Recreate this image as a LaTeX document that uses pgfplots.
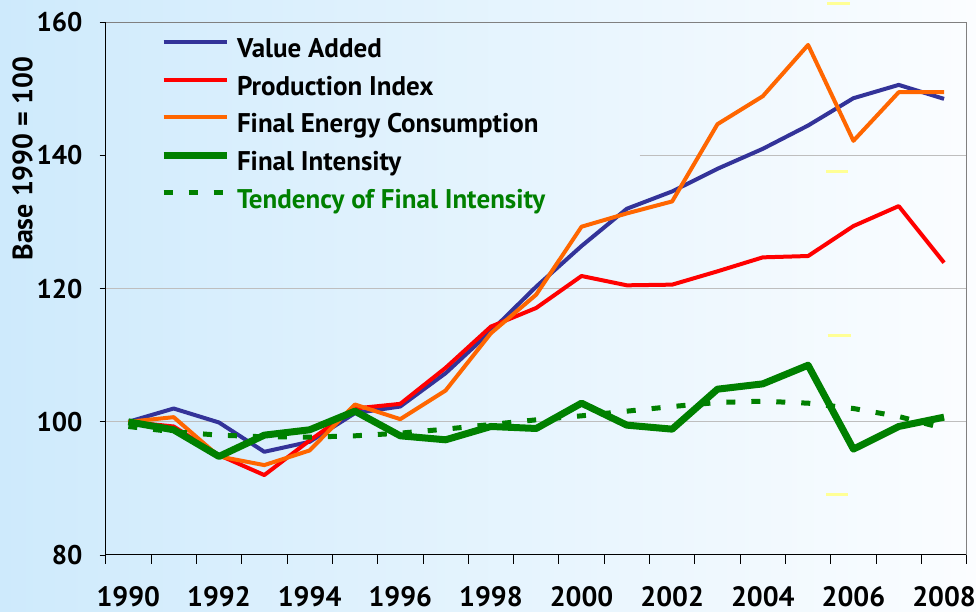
\documentclass[border=0pt]{standalone}
\usepackage{pgfplots}
\pgfplotsset{compat=1.18}
\usepackage{fontspec}
\setmainfont{PT Sans}
\definecolor{vablue}{RGB}{51,51,153}
\definecolor{pired}{RGB}{255,0,0}
\definecolor{fecorange}{RGB}{255,102,0}
\definecolor{figreen}{RGB}{0,128,0}
\definecolor{bgleft}{RGB}{206,234,252}
\definecolor{bgright}{RGB}{251,253,255}
\definecolor{gridgray}{RGB}{190,190,190}
\definecolor{lightyel}{RGB}{255,255,150}
\begin{document}
\begin{tikzpicture}[x=1pt,y=1pt]
\useasboundingbox (0,0) rectangle (976,612);
\shade[left color=bgleft, right color=bgright] (0,0) rectangle (976,612);
\begin{axis}[
  at={(105.7pt,57pt)}, anchor=south west,
  scale only axis, width=861pt, height=532.7pt,
  xmin=1989.5, xmax=2008.5, ymin=80, ymax=160,
  clip=false,
  axis lines*=left,
  axis line style={black, line width=1pt},
  tick align=outside,
  xtick={1990,1992,1994,1996,1998,2000,2002,2004,2006,2008},
  xticklabels={1990,1992,1994,1996,1998,2000,2002,2004,2006,2008},
  major x tick style={draw=none},
  minor xtick={1989.5,1990.5,...,2008.5},
  minor tick length=9pt,
  minor x tick style={black, line width=0.8pt},
  ytick={80,100,120,140,160},
  yticklabels={80,100,120,140,160},
  major tick length=6pt,
  y tick style={black, line width=0.8pt},
  x tick label style={font=\bfseries\fontsize{28}{28}\selectfont, inner sep=0pt, anchor=north, yshift=-25pt},
  y tick label style={font=\bfseries\fontsize{27}{27}\selectfont, inner sep=0pt, anchor=east, xshift=-17pt},
  ylabel={Base 1990 = 100},
  ylabel style={at={(axis description cs:-0.0965,0.744)}, anchor=center, rotate=0, font=\bfseries\fontsize{28}{28}\selectfont, inner sep=0pt},
  legend style={at={(axis description cs:0.0631,0.970)}, anchor=north west, draw=none, fill=none, inner sep=0pt, outer sep=0pt,
    font=\bfseries\fontsize{27}{27}\selectfont, row sep=12.8pt, column sep=7pt,
    nodes={inner sep=0pt, text height=19pt, text depth=6pt}},
  legend cell align=left,
  legend image code/.code={\draw[#1] (0pt,9pt) -- (63pt,9pt);},
]
\draw[gridgray, line width=0.8pt] (axis cs:1989.5,100) -- (axis cs:2008.5,100);
\draw[gridgray, line width=0.8pt] (axis cs:1989.5,120) -- (axis cs:2008.5,120);
\draw[gridgray, line width=0.8pt] (axis cs:2001.28,140) -- (axis cs:2008.5,140);

\addplot[vablue, line width=4pt, line join=round] coordinates {
(1990,100) (1991,102.0) (1992,99.9) (1993,95.5) (1994,97.0) (1995,101.3) (1996,102.3) (1997,107.3) (1998,113.6) (1999,120.3)
(2000,126.4) (2001,132.0) (2002,134.6) (2003,138.0) (2004,141.0) (2005,144.5) (2006,148.6) (2007,150.6) (2008,148.5)};
\addlegendentry{Value Added}
\addplot[pired, line width=4pt, line join=round] coordinates {
(1990,100) (1991,99.3) (1992,95.0) (1993,92.0) (1994,97.2) (1995,102.0) (1996,102.7) (1997,108.1) (1998,114.3) (1999,117.1)
(2000,121.9) (2001,120.5) (2002,120.6) (2003,122.6) (2004,124.7) (2005,124.9) (2006,129.4) (2007,132.4) (2008,123.9)};
\addlegendentry{Production Index}
\addplot[fecorange, line width=4pt, line join=round] coordinates {
(1990,100) (1991,100.7) (1992,94.8) (1993,93.5) (1994,95.7) (1995,102.6) (1996,100.4) (1997,104.7) (1998,113.3) (1999,119.1)
(2000,129.3) (2001,131.3) (2002,133.1) (2003,144.7) (2004,148.9) (2005,156.6) (2006,142.2) (2007,149.5) (2008,149.5)};
\addlegendentry{Final Energy Consumption}
\addplot[figreen, line width=7pt, line join=round] coordinates {
(1990,100) (1991,98.8) (1992,94.8) (1993,98.0) (1994,98.8) (1995,101.6) (1996,97.9) (1997,97.3) (1998,99.3) (1999,99.0)
(2000,102.8) (2001,99.5) (2002,98.9) (2003,104.9) (2004,105.7) (2005,108.5) (2006,95.9) (2007,99.3) (2008,100.7)};
\addlegendentry{Final Intensity}
\addplot[figreen, line width=5pt, dash pattern=on 9pt off 16pt] coordinates {
(1990,99.3) (1991,98.5) (1992,98.0) (1993,97.75) (1994,97.7) (1995,97.9) (1996,98.3) (1997,98.9) (1998,99.6) (1999,100.3)
(2000,100.9) (2001,101.6) (2002,102.3) (2003,102.9) (2004,103.1) (2005,102.8) (2006,102.0) (2007,100.8) (2008,99.0)};
\addlegendentry{\textcolor{figreen}{Tendency of Final Intensity}}

\addplot[lightyel, line width=3pt, forget plot] coordinates {(2005.42,162.86) (2005.92,162.86)};
\addplot[lightyel, line width=3pt, forget plot] coordinates {(2005.40,137.55) (2005.88,137.55)};
\addplot[lightyel, line width=3pt, forget plot] coordinates {(2005.43,112.98) (2005.94,112.98)};
\addplot[lightyel, line width=3pt, forget plot] coordinates {(2005.40,89.07) (2005.88,89.07)};

\draw[gray, line width=1.5pt] (rel axis cs:0,1) -- (rel axis cs:1,1) -- (rel axis cs:1,0);
\end{axis}
\end{tikzpicture}
\end{document}
